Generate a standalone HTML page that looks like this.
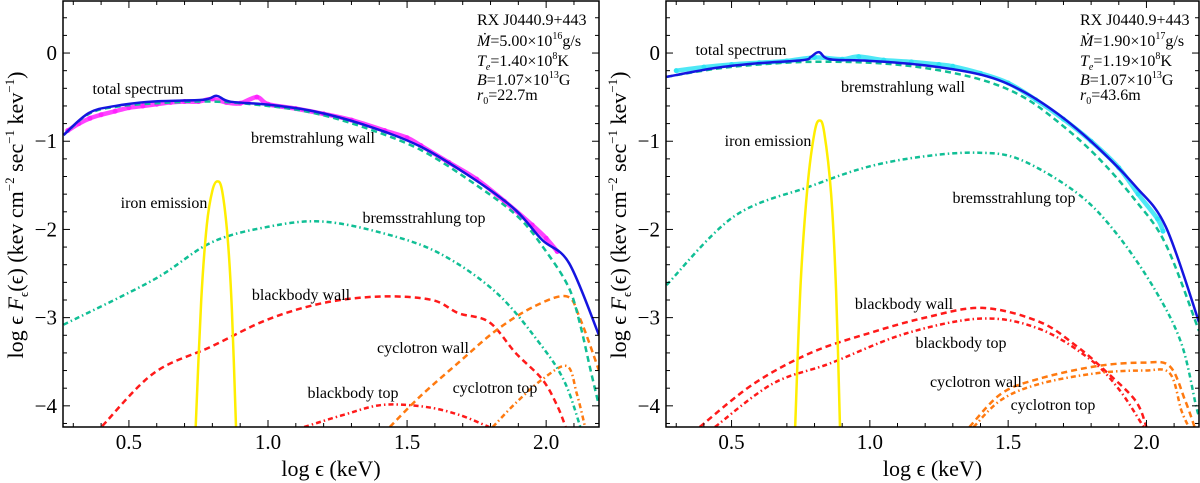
<!DOCTYPE html>
<html><head><meta charset="utf-8"><style>
html,body{margin:0;padding:0;background:#fff;}
svg{display:block;font-family:"Liberation Serif",serif;}
</style></head><body>
<svg id="fig" width="1200" height="483" viewBox="0 0 1200 483" xmlns="http://www.w3.org/2000/svg"></svg>
<script>
// ---------- data: left panel (Mdot=5.00e16) ----------
const leftTotal=[[0.265,-0.93],[0.356,-0.68],[0.452,-0.60],[0.589,-0.55],[0.767,-0.53],[0.815,-0.485],[0.863,-0.55],[1.0,-0.585],[1.164,-0.66],[1.342,-0.81],[1.548,-1.06],[1.753,-1.455],[1.89,-1.78],[1.986,-2.12],[2.082,-2.38],[2.19,-3.2]];
const leftBremWall=[[0.265,-0.93],[0.356,-0.69],[0.452,-0.61],[0.6,-0.57],[0.8,-0.55],[1.0,-0.6],[1.164,-0.68],[1.342,-0.84],[1.55,-1.1],[1.75,-1.5],[1.9,-1.86],[2.0,-2.25],[2.08,-2.65],[2.12,-3.05],[2.16,-3.6],[2.19,-4.0]];
const leftBremTop=[[0.265,-3.08],[0.589,-2.57],[0.795,-2.15],[1.0,-1.97],[1.192,-1.91],[1.41,-2.04],[1.616,-2.27],[1.822,-2.72],[1.986,-3.33],[2.068,-3.74],[2.123,-4.24]];
const leftIron=[[0.74,-4.24],[0.76,-2.8],[0.78,-1.95],[0.80,-1.56],[0.818,-1.455],[0.835,-1.56],[0.855,-2.1],[0.87,-2.9],[0.885,-4.24]];
const leftBBWall=[[0.404,-4.23],[0.589,-3.63],[0.795,-3.33],[1.0,-3.02],[1.205,-2.83],[1.41,-2.76],[1.59,-2.8],[1.685,-2.95],[1.795,-3.05],[1.89,-3.4],[1.986,-3.7],[2.04,-4.0],[2.07,-4.24]];
const leftBBTop=[[1.13,-4.24],[1.274,-4.1],[1.41,-3.99],[1.562,-4.01],[1.685,-4.1],[1.795,-4.24]];
const leftCycWall=[[1.438,-4.24],[1.548,-3.89],[1.685,-3.51],[1.822,-3.14],[1.959,-2.87],[2.075,-2.76],[2.123,-3.02],[2.19,-3.6]];
const leftCycTop=[[1.808,-4.24],[1.89,-3.97],[1.986,-3.7],[2.075,-3.55],[2.11,-3.86],[2.14,-4.24]];
const leftObs=[[0.28,-0.88],[0.32,-0.8],[0.36,-0.74],[0.4,-0.7],[0.45,-0.66],[0.5,-0.62],[0.55,-0.6],[0.6,-0.58],[0.65,-0.56],[0.7,-0.55],[0.75,-0.55],[0.8,-0.52],[0.85,-0.56],[0.9,-0.57],[0.96,-0.5],[1.0,-0.58],[1.1,-0.63],[1.2,-0.69],[1.3,-0.76],[1.42,-0.88],[1.5,-0.96],[1.55,-1.05],[1.65,-1.24],[1.75,-1.43],[1.85,-1.68],[1.95,-1.95],[2.0,-2.1],[2.04,-2.25]];
// ---------- data: right panel (Mdot=1.90e17) ----------
const rightTotal=[[0.265,-0.27],[0.44,-0.17],[0.58,-0.12],[0.758,-0.08],[0.786,-0.045],[0.816,0.01],[0.855,-0.07],[0.993,-0.087],[1.2,-0.14],[1.407,-0.25],[1.545,-0.42],[1.684,-0.7],[1.82,-1.06],[1.96,-1.51],[2.07,-1.97],[2.19,-3.05]];
const rightBremWall=[[0.265,-0.27],[0.44,-0.18],[0.6,-0.13],[0.78,-0.1],[1.0,-0.11],[1.2,-0.17],[1.4,-0.3],[1.55,-0.49],[1.68,-0.78],[1.82,-1.17],[1.96,-1.67],[2.07,-2.17],[2.19,-3.15]];
const rightBremTop=[[0.265,-2.63],[0.51,-1.85],[0.786,-1.51],[0.993,-1.29],[1.2,-1.17],[1.394,-1.13],[1.545,-1.21],[1.75,-1.59],[1.89,-2.04],[2.03,-2.68],[2.126,-3.29],[2.18,-4.01],[2.19,-4.1]];
const rightIron=[[0.73,-4.24],[0.75,-2.6],[0.775,-1.5],[0.80,-0.9],[0.818,-0.765],[0.835,-0.9],[0.86,-1.6],[0.878,-2.7],[0.892,-4.24]];
const rightBBWall=[[0.385,-4.24],[0.58,-3.75],[0.786,-3.4],[0.993,-3.18],[1.2,-3.0],[1.407,-2.89],[1.615,-3.05],[1.75,-3.33],[1.85,-3.6],[1.96,-3.94],[2.0,-4.24]];
const rightBBTop=[[0.44,-4.24],[0.648,-3.75],[0.855,-3.52],[1.13,-3.18],[1.407,-3.01],[1.615,-3.13],[1.795,-3.47],[1.9,-3.81],[1.99,-4.24]];
const rightCycWall=[[1.36,-4.24],[1.476,-3.86],[1.615,-3.69],[1.82,-3.55],[1.99,-3.51],[2.084,-3.55],[2.14,-3.94],[2.174,-4.24]];
const rightCycTop=[[1.375,-4.24],[1.476,-3.93],[1.615,-3.75],[1.82,-3.63],[1.99,-3.6],[2.084,-3.63],[2.126,-4.05],[2.153,-4.24]];
const rightObs=[[0.3,-0.2],[0.4,-0.16],[0.5,-0.13],[0.6,-0.11],[0.7,-0.09],[0.8,-0.05],[0.9,-0.07],[0.96,-0.04],[1.05,-0.08],[1.15,-0.1],[1.25,-0.13],[1.3,-0.15],[1.4,-0.23],[1.5,-0.34],[1.6,-0.53],[1.7,-0.75],[1.8,-1.0],[1.9,-1.3],[1.97,-1.6],[2.04,-1.88],[2.06,-2.02]];
// tick labels
const xTicks=[0.5,1.0,1.5,2.0];
const xTickLabels=["0.5","1.0","1.5","2.0"];
const yTicks=[0,-1,-2,-3,-4];
const yTickLabels=["0","\u22121","\u22122","\u22123","\u22124"];
const leftInfo=["5.00","16","1.40","22.7"];
const rightInfo=["1.90","17","1.19","43.6"];

const NS="http://www.w3.org/2000/svg";
const svg=document.getElementById('fig');
function mk(tag,attrs,parent){const e=document.createElementNS(NS,tag);for(const k in attrs)e.setAttribute(k,attrs[k]);(parent||svg).appendChild(e);return e;}
const XMIN=0.263,XMAX=2.19,YMIN=-4.24,YMAX=0.59;

function panel(p){
  const g=mk('g',{});
  
  
  const sx=v=>p.x0+(v-XMIN)/(XMAX-XMIN)*(p.x1-p.x0);
  const sy=v=>p.y1-(v-YMIN)/(YMAX-YMIN)*(p.y1-p.y0);
  const cid='clip'+p.name;
  const cp=mk('clipPath',{id:cid},g);mk('rect',{x:p.x0,y:p.y0,width:p.x1-p.x0,height:p.y1-p.y0},cp);
  const plot=mk('g',{'clip-path':'url(#'+cid+')'},g);
  function path(pts){
    const P=pts.map(q=>[sx(q[0]),sy(q[1])]);
    let d='M'+P[0][0]+','+P[0][1];
    for(let i=0;i<P.length-1;i++){
      const a=P[Math.max(0,i-1)],b=P[i],c=P[i+1],e=P[Math.min(P.length-1,i+2)];
      const c1x=b[0]+(c[0]-a[0])/6,c1y=b[1]+(c[1]-a[1])/6,c2x=c[0]-(e[0]-b[0])/6,c2y=c[1]-(e[1]-b[1])/6;
      d+=' C'+c1x+','+c1y+' '+c2x+','+c2y+' '+c[0]+','+c[1];
    }
    return d;
  }
  function line(pts,color,w,dash,name){
    const e=mk('path',{d:path(pts),fill:'none',stroke:color,'stroke-width':w},plot);
    if(dash)e.setAttribute('stroke-dasharray',dash);
    
    
  }
  const obs=mk('path',{d:path(p.obs),fill:'none',stroke:p.obsColor,'stroke-width':4.5,'stroke-opacity':0.85},plot);
  
  
  p.obs.forEach(q=>{const c=mk('circle',{cx:sx(q[0]),cy:sy(q[1]),r:2.5,fill:p.obsColor},plot);
    
    });
  const DASH='6,4',DD='5,3,1.5,3';
  line(p.bbTop,'#ff1a1a',2.5,DD,'blackbody-top-curve');
  line(p.bbWall,'#ff1a1a',2.5,DASH,'blackbody-wall-curve');
  line(p.cycTop,'#ff7a10',2.5,DD,'cyclotron-top-curve');
  line(p.cycWall,'#ff7a10',2.5,DASH,'cyclotron-wall-curve');
  line(p.bremTop,'#10bf95',2.5,DD,'bremsstrahlung-top-curve');
  line(p.bremWall,'#10bf95',2.5,DASH,'bremsstrahlung-wall-curve');
  line(p.iron,'#ffee00',2.5,null,'iron-emission-curve');
  line(p.total,'#1515e0',2.5,null,'total-spectrum-curve');
  mk('rect',{x:p.x0,y:p.y0,width:p.x1-p.x0,height:p.y1-p.y0,fill:'none',stroke:'#000','stroke-width':1.5},g);
  for(let v=0.3;v<=2.19;v+=0.1){const X=sx(v);const major=Math.abs(v*2-Math.round(v*2))<1e-6;const L=major?7:4;
    mk('line',{x1:X,x2:X,y1:p.y1,y2:p.y1-L,stroke:'#000','stroke-width':1},g);
    mk('line',{x1:X,x2:X,y1:p.y0,y2:p.y0+L,stroke:'#000','stroke-width':1},g);}
  for(let v=-4.2;v<=0.5;v+=0.2){const Y=sy(v);const major=Math.abs(v-Math.round(v))<1e-6;const L=major?7:4;
    mk('line',{x1:p.x0,x2:p.x0+L,y1:Y,y2:Y,stroke:'#000','stroke-width':1},g);
    mk('line',{x1:p.x1,x2:p.x1-L,y1:Y,y2:Y,stroke:'#000','stroke-width':1},g);}
  xTicks.forEach((v,i)=>{const t=mk('text',{x:sx(v),y:p.y1+22,'text-anchor':'middle','font-size':21},g);t.textContent=xTickLabels[i];
    });
  yTicks.forEach((v,i)=>{const t=mk('text',{x:p.x0-6,y:sy(v)+7,'text-anchor':'end','font-size':21},g);t.textContent=yTickLabels[i];
    });
  const xt=mk('text',{x:(p.x0+p.x1)/2,y:476,'text-anchor':'middle','font-size':22},g);
  xt.innerHTML='log \u03f5 (keV)';
  
  const yt=mk('text',{x:0,y:0,'text-anchor':'middle','font-size':22,transform:'translate('+(p.x0-40)+',215) rotate(-90)'},g);
  yt.innerHTML='log \u03f5 <tspan font-style="italic">F</tspan><tspan font-size="13" dy="5">\u03f5</tspan><tspan dy="-5">(\u03f5) (kev cm</tspan><tspan font-size="13" dy="-9">\u22122</tspan><tspan dy="9"> sec</tspan><tspan font-size="13" dy="-9">\u22121</tspan><tspan dy="9"> kev</tspan><tspan font-size="13" dy="-9">\u22121</tspan><tspan dy="9">)</tspan>';
  
  p.labels.forEach(l=>{const t=mk('text',{x:l[1],y:l[2],'text-anchor':'middle','font-size':16},g);t.textContent=l[0];
    });
  const I=p.info,ax=p.infoX;
  const info=mk('text',{x:ax,y:25,'font-size':16},g);
  
  info.innerHTML='<tspan x="'+ax+'" y="25">RX J0440.9+443</tspan>'+
   '<tspan x="'+ax+'" y="46" font-style="italic">\u1E40</tspan><tspan>='+I[0]+'\u00d710</tspan><tspan font-size="10" dy="-7">'+I[1]+'</tspan><tspan dy="7">g/s</tspan>'+
   '<tspan x="'+ax+'" y="66" font-style="italic">T</tspan><tspan font-size="10" dy="4" font-style="italic">e</tspan><tspan dy="-4">='+I[2]+'\u00d710</tspan><tspan font-size="10" dy="-7">8</tspan><tspan dy="7">K</tspan>'+
   '<tspan x="'+ax+'" y="85" font-style="italic">B</tspan><tspan>=1.07\u00d710</tspan><tspan font-size="10" dy="-7">13</tspan><tspan dy="7">G</tspan>'+
   '<tspan x="'+ax+'" y="100" font-style="italic">r</tspan><tspan font-size="10" dy="4">0</tspan><tspan dy="-4">='+I[3]+'m</tspan>';
}

panel({name:'left-panel',x0:63,x1:599,y0:1,y1:427,total:leftTotal,bremWall:leftBremWall,bremTop:leftBremTop,iron:leftIron,bbWall:leftBBWall,bbTop:leftBBTop,cycWall:leftCycWall,cycTop:leftCycTop,obs:leftObs,obsColor:'#ff22ff',info:leftInfo,infoX:477,
 labels:[['total spectrum',138,94],['bremstrahlung wall',313,143],['iron emission',164,208],['bremsstrahlung top',424,223],['blackbody wall',301,300],['cyclotron wall',423,353],['blackbody top',353,398],['cyclotron top',495,393]]});
panel({name:'right-panel',x0:666,x1:1199,y0:1,y1:427,total:rightTotal,bremWall:rightBremWall,bremTop:rightBremTop,iron:rightIron,bbWall:rightBBWall,bbTop:rightBBTop,cycWall:rightCycWall,cycTop:rightCycTop,obs:rightObs,obsColor:'#30e4f4',info:rightInfo,infoX:1080,
 labels:[['total spectrum',741,55],['bremstrahlung wall',903,92],['iron emission',768,146],['bremsstrahlung top',1014,203],['blackbody wall',904,309],['blackbody top',961,348],['cyclotron wall',976,387],['cyclotron top',1053,410]]});
</script>
</body></html>
